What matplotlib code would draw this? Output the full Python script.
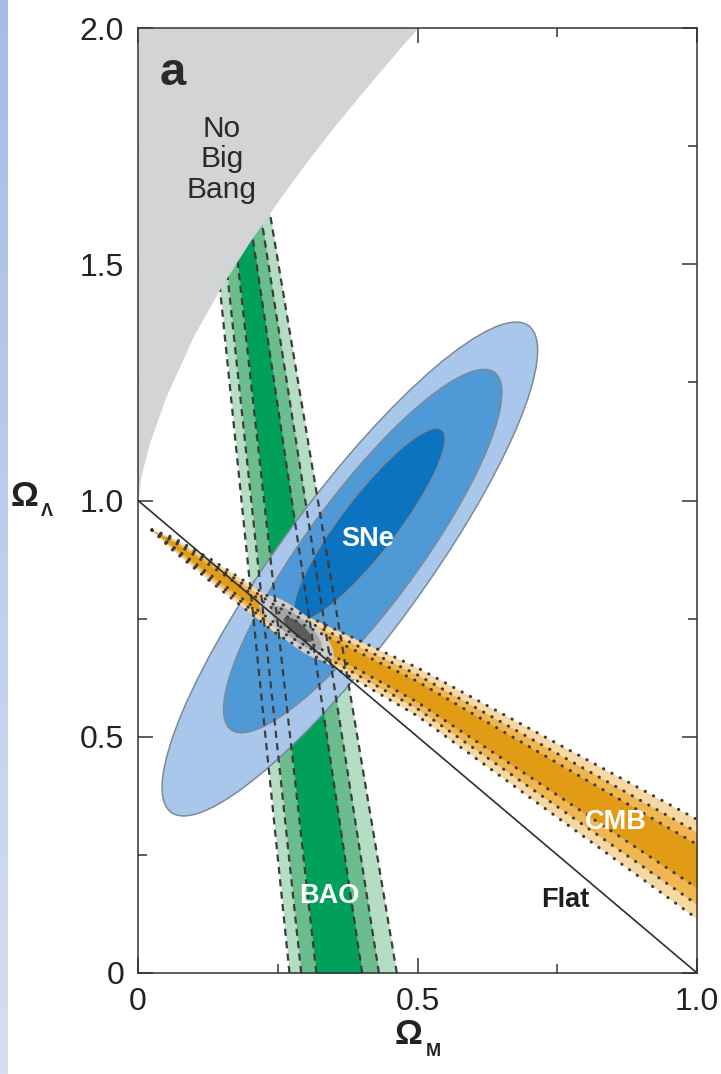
import numpy as np
import matplotlib.pyplot as plt
from matplotlib.patches import Ellipse
from matplotlib.transforms import Affine2D
from matplotlib.ticker import MultipleLocator, FuncFormatter
from matplotlib.colors import LinearSegmentedColormap

plt.rcParams['font.family'] = ['Liberation Sans', 'DejaVu Sans']

# ---- data ---------------------------------------------------------------
# "No Big Bang" boundary
nbb_om = [0.0, 0.005, 0.02, 0.05, 0.10, 0.15, 0.20, 0.25, 0.30, 0.35, 0.40, 0.45, 0.50]
nbb_ol = [1.0, 1.05, 1.12, 1.22, 1.35, 1.455, 1.548, 1.633, 1.714, 1.79, 1.862, 1.932, 2.0]

# BAO band edges (Omega_M) at Omega_Lambda = 0 and 1.7
bao_ol = [0.0, 1.7]
bao_light_lo = [0.271, 0.125]
bao_mid_lo = [0.292, 0.140]
bao_dark_lo = [0.319, 0.160]
bao_dark_hi = [0.401, 0.187]
bao_mid_hi = [0.431, 0.207]
bao_light_hi = [0.463, 0.223]

# CMB band edges (Omega_Lambda) at given Omega_M
cmb_om = [0.025, 0.06, 0.13, 0.25, 0.5, 1.0]
cmb_light_hi = [0.9375, 0.923, 0.876, 0.784, 0.646, 0.325]
cmb_mid_hi = [0.9375, 0.919, 0.869, 0.774, 0.631, 0.298]
cmb_dark_hi = [0.9375, 0.9155, 0.862, 0.764, 0.617, 0.272]
cmb_dark_lo = [0.9375, 0.9045, 0.842, 0.736, 0.573, 0.180]
cmb_mid_lo = [0.9375, 0.901, 0.835, 0.726, 0.559, 0.145]
cmb_light_lo = [0.9375, 0.897, 0.828, 0.716, 0.544, 0.115]

# SNe confidence ellipses: centre (Om, OL), semi axes (Om units), angle on page
sne_om = [0.379, 0.402, 0.414]
sne_ol = [0.855, 0.893, 0.950]
sne_a = [0.540, 0.397, 0.213]
sne_b = [0.128, 0.100, 0.050]
sne_ang = [53.7, 53.6, 52.5]
sne_col = ['#a9c7ea', '#4f9ad6', '#0b73c0']

# combined constraint
comb_om = [0.283, 0.283, 0.286]
comb_ol = [0.730, 0.730, 0.727]
comb_a = [0.085, 0.058, 0.032]
comb_b = [0.028, 0.019, 0.011]
comb_col = ['#cdcdcd', '#a6a6a6', '#5c5c5c']

flat_om = [0.0, 1.0]
flat_ol = [1.0, 0.0]

# ---- figure ---------------------------------------------------------------
W, H = 721, 1074
fig = plt.figure(figsize=(W / 100, H / 100), dpi=100)

# pale blue strip at left edge
sax = fig.add_axes([0, 0, 8 / W, 1])
strip_cmap = LinearSegmentedColormap.from_list('strip', ['#a4bce7', '#d6dff2'])
sax.imshow(np.linspace(0, 1, 256).reshape(-1, 1), aspect='auto', cmap=strip_cmap)
sax.axis('off')

ax_l, ax_b, ax_w, ax_h = 138 / W, 1 - 973 / H, 559 / W, 945 / H
ax = fig.add_axes([ax_l, ax_b, ax_w, ax_h])
ax.set_xlim(0, 1)
ax.set_ylim(0, 2)

# scale so that ellipses can be defined in page-isotropic units
k = (ax_h * H / 2.0) / (ax_w * W / 1.0)
iso = Affine2D().scale(1.0, 1.0 / k) + ax.transData

# BAO
ax.fill_betweenx(bao_ol, bao_light_lo, bao_light_hi, color='#b5ddc4', lw=0, zorder=1)
ax.fill_betweenx(bao_ol, bao_mid_lo, bao_mid_hi, color='#6cbd8d', lw=0, zorder=1.1)
ax.fill_betweenx(bao_ol, bao_dark_lo, bao_dark_hi, color='#00a05b', lw=0, zorder=1.2)

# SNe
for cx, cy, a, b, ang, c in zip(sne_om, sne_ol, sne_a, sne_b, sne_ang, sne_col):
    ax.add_patch(Ellipse((cx, cy * k), 2 * a, 2 * b, angle=ang, transform=iso,
                         facecolor=c, edgecolor='#7b8a98', lw=1.1, zorder=2))

# CMB
ax.fill_between(cmb_om, cmb_light_lo, cmb_light_hi, color='#f7d8a3', lw=0, zorder=3)
ax.fill_between(cmb_om, cmb_mid_lo, cmb_mid_hi, color='#f0b650', lw=0, zorder=3.1)
ax.fill_between(cmb_om, cmb_dark_lo, cmb_dark_hi, color='#e29b14', lw=0, zorder=3.2)

# combined
for cx, cy, a, b, c in zip(comb_om, comb_ol, comb_a, comb_b, comb_col):
    ax.add_patch(Ellipse((cx, cy * k), 2 * a, 2 * b, angle=-40.2, transform=iso,
                         facecolor=c, edgecolor='none', zorder=4))

# dashed / dotted contour lines
for e in [bao_light_lo, bao_mid_lo, bao_dark_lo, bao_dark_hi, bao_mid_hi, bao_light_hi]:
    ax.plot(e, bao_ol, color='#3c3c3c', lw=1.6, ls=(0, (3.2, 2.4)), zorder=4.5)
for e in [cmb_light_hi, cmb_mid_hi, cmb_dark_hi, cmb_dark_lo, cmb_mid_lo, cmb_light_lo]:
    ax.plot(cmb_om, e, color='#3c3c3c', lw=2.2, ls=(0, (0.1, 3.0)),
            dash_capstyle='round', zorder=4.5)

# no big bang region
ax.fill_between(nbb_om, nbb_ol, 2.0, color='#d3d4d6', lw=0, zorder=5)

# flat universe
ax.plot(flat_om, flat_ol, color='#2e2e2e', lw=1.2, zorder=6)

# labels in the panel
ax.text(0.150, 1.722, 'No\nBig\nBang', ha='center', va='center', fontsize=21.5,
        color='#2a2a2a', linespacing=1.12, zorder=7)
ax.text(0.063, 1.905, 'a', ha='center', va='center', fontsize=34,
        fontweight='bold', color='#2a2a2a', zorder=7)
ax.text(0.410, 0.919, 'SNe', ha='center', va='center', fontsize=19.5,
        fontweight='bold', color='white', zorder=7)
ax.text(0.343, 0.163, 'BAO', ha='center', va='center', fontsize=19.5,
        fontweight='bold', color='white', zorder=7)
ax.text(0.855, 0.319, 'CMB', ha='center', va='center', fontsize=19.5,
        fontweight='bold', color='white', zorder=7)
ax.text(0.764, 0.154, 'Flat', ha='center', va='center', fontsize=19.5,
        fontweight='bold', color='#1e1e1e', zorder=7)

# axes styling
for s in ax.spines.values():
    s.set_color('#333333')
    s.set_linewidth(1.1)
    s.set_zorder(8)
ax.xaxis.set_major_locator(MultipleLocator(0.5))
ax.xaxis.set_minor_locator(MultipleLocator(0.25))
ax.yaxis.set_major_locator(MultipleLocator(0.5))
ax.yaxis.set_minor_locator(MultipleLocator(0.25))
fmt = FuncFormatter(lambda v, p: '0' if abs(v) < 1e-9 else '%.1f' % v)
ax.xaxis.set_major_formatter(fmt)
ax.yaxis.set_major_formatter(fmt)
ax.tick_params(which='both', direction='in', top=True, right=True,
               color='#333333', width=1.1, labelsize=23, labelcolor='#222222')
ax.tick_params(which='major', length=11, pad=10)
ax.tick_params(which='minor', length=6.5)

# axis titles
fig.text(11 / W, 1 - 497 / H, 'Ω', fontsize=25, fontweight='bold',
         color='#222222', ha='left', va='center')
fig.text(41 / W, 1 - 512 / H, 'Λ', fontsize=13, fontweight='bold',
         color='#222222', ha='left', va='center')
fig.text(395 / W, 1 - 1035 / H, 'Ω', fontsize=25, fontweight='bold',
         color='#222222', ha='left', va='center')
fig.text(426 / W, 1 - 1051 / H, 'M', fontsize=13, fontweight='bold',
         color='#222222', ha='left', va='center')

fig.savefig('out.png', dpi=100)
